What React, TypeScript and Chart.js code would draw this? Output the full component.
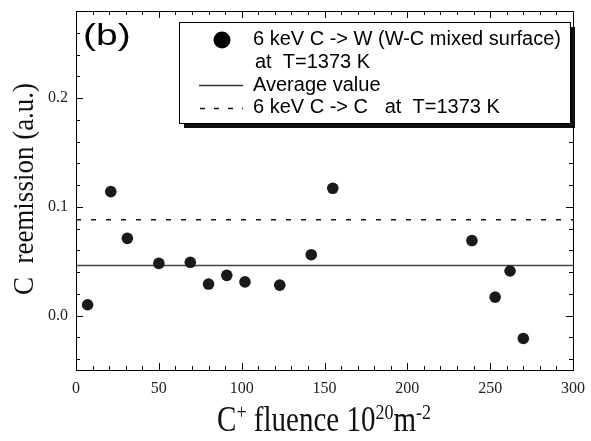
import React, { useEffect, useRef } from "react";
import { Chart, registerables } from "chart.js";

Chart.register(...registerables);

// ---- data ----
const fluence = [7, 21, 31, 50, 69, 80, 91, 102, 123, 142, 155, 239, 253, 262, 270];
const reemission = [0.010, 0.114, 0.071, 0.048, 0.049, 0.029, 0.037, 0.031, 0.028, 0.056, 0.117, 0.069, 0.017, 0.041, -0.021];
const averageValue = 0.046;
const carbonOnCarbon = 0.088;
const xRange = [0, 300];
const yRange = [-0.05, 0.28];
const xTickValues = [0, 50, 100, 150, 200, 250, 300];
const yTickValues = [0, 0.1, 0.2];
const seriesLabels = ["6 keV C -> W (W-C mixed surface)", "Average value", "6 keV C -> C   at  T=1373 K"];
const legendSubLine = "at  T=1373 K";
const panelLabel = "(b)";
const yTitle = "C  reemission (a.u.)";
// [text, isSuperscript]
const xTitleParts: [string, boolean][] = [["C", false], ["+", true], [" fluence 10", false], ["20", true], ["m", false], ["-2", true]];

const SERIF = "'Liberation Serif', 'Times New Roman', serif";
const SANS = "'Liberation Sans', Arial, sans-serif";

const decorPlugin = {
  id: "decor",
  afterDraw(chart: any) {
    const ctx: CanvasRenderingContext2D = chart.ctx;
    const { left, right, top, bottom } = chart.chartArea;
    const xs = chart.scales.x;
    const ys = chart.scales.y;
    ctx.save();

    // frame
    ctx.strokeStyle = "#000";
    ctx.lineWidth = 1;
    ctx.strokeRect(Math.round(left) + 0.5, Math.round(top) + 0.5, Math.round(right - left), Math.round(bottom - top));

    // ticks (inward, all four sides)
    ctx.beginPath();
    for (let k = 0; k <= 30; k++) {
      const px = Math.round(xs.getPixelForValue(k * 10)) + 0.5;
      const len = k % 5 === 0 ? 7 : 4;
      ctx.moveTo(px, bottom);
      ctx.lineTo(px, bottom - len);
      ctx.moveTo(px, top);
      ctx.lineTo(px, top + len);
    }
    for (let k = -2; k <= 14; k++) {
      const py = Math.round(ys.getPixelForValue(k * 0.02)) + 0.5;
      const len = k % 5 === 0 ? 7 : 4;
      ctx.moveTo(left, py);
      ctx.lineTo(left + len, py);
      ctx.moveTo(right, py);
      ctx.lineTo(right - len, py);
    }
    ctx.stroke();

    // panel label
    ctx.save();
    ctx.fillStyle = "#000";
    ctx.font = `30px ${SANS}`;
    ctx.textBaseline = "alphabetic";
    ctx.translate(83, 45);
    ctx.scale(1.3, 1);
    ctx.fillText(panelLabel, 0, 0);
    ctx.restore();

    // legend box with shadow
    const bx = 179, by = 22, bw = 391, bh = 101;
    ctx.fillStyle = "#111";
    ctx.fillRect(bx + 5, by + 5, bw, bh);
    ctx.fillStyle = "#fff";
    ctx.fillRect(bx, by, bw, bh);
    ctx.strokeStyle = "#000";
    ctx.lineWidth = 1;
    ctx.strokeRect(bx + 0.5, by + 0.5, bw, bh);

    ctx.fillStyle = "#000";
    ctx.beginPath();
    ctx.arc(222, 40, 8.5, 0, Math.PI * 2);
    ctx.fill();

    ctx.font = `20px ${SANS}`;
    ctx.textAlign = "left";
    ctx.textBaseline = "alphabetic";
    ctx.fillText(seriesLabels[0], 253, 45);
    ctx.fillText(legendSubLine, 255, 68);
    ctx.fillText(seriesLabels[1], 253, 91);
    ctx.fillText(seriesLabels[2], 253, 113);

    ctx.lineWidth = 1.5;
    ctx.strokeStyle = "#333";
    ctx.beginPath();
    ctx.moveTo(199, 85.5);
    ctx.lineTo(243, 85.5);
    ctx.stroke();
    ctx.strokeStyle = "#111";
    ctx.setLineDash([5, 9]);
    ctx.beginPath();
    ctx.moveTo(200, 108.5);
    ctx.lineTo(243, 108.5);
    ctx.stroke();
    ctx.setLineDash([]);

    // y title
    ctx.save();
    ctx.fillStyle = "#111";
    ctx.font = `27px ${SERIF}`;
    ctx.textAlign = "center";
    ctx.textBaseline = "alphabetic";
    ctx.translate(33, 189);
    ctx.rotate(-Math.PI / 2);
    ctx.scale(1, 1.1);
    ctx.fillText(yTitle, 0, 0);
    ctx.restore();

    // x title with superscripts
    ctx.save();
    ctx.fillStyle = "#111";
    ctx.textAlign = "left";
    ctx.textBaseline = "alphabetic";
    const mainFont = `29px ${SERIF}`;
    const supFont = `18px ${SERIF}`;
    let total = 0;
    const widths = xTitleParts.map(([t, sup]) => {
      ctx.font = sup ? supFont : mainFont;
      const w = ctx.measureText(t).width;
      total += w;
      return w;
    });
    let x = 324 - total / 2;
    ctx.translate(0, 431);
    ctx.scale(1, 1.2);
    xTitleParts.forEach(([t, sup], i) => {
      ctx.font = sup ? supFont : mainFont;
      ctx.fillText(t, x, sup ? -10 : 0);
      x += widths[i];
    });
    ctx.restore();

    ctx.restore();
  },
};

export default function App() {
  const canvasRef = useRef<HTMLCanvasElement | null>(null);

  useEffect(() => {
    const canvas = canvasRef.current;
    if (!canvas) return;
    const chart = new Chart(canvas, {
      type: "scatter",
      data: {
        datasets: [
          {
            label: seriesLabels[0],
            data: fluence.map((f, i) => ({ x: f, y: reemission[i] })),
            backgroundColor: "#1a1a1a",
            borderWidth: 0,
            pointRadius: 5.8,
            showLine: false,
          },
          {
            label: seriesLabels[1],
            data: [
              { x: xRange[0], y: averageValue },
              { x: xRange[1], y: averageValue },
            ],
            borderColor: "#444",
            borderWidth: 1.5,
            pointRadius: 0,
            showLine: true,
          },
          {
            label: seriesLabels[2],
            data: [
              { x: xRange[0], y: carbonOnCarbon },
              { x: xRange[1], y: carbonOnCarbon },
            ],
            borderColor: "#111",
            borderWidth: 1.5,
            borderDash: [5, 10],
            pointRadius: 0,
            showLine: true,
          },
        ],
      },
      options: {
        responsive: false,
        animation: false,
        layout: { padding: { top: 11, right: 18, left: 0, bottom: 0 } },
        plugins: { legend: { display: false }, tooltip: { enabled: false } },
        scales: {
          x: {
            type: "linear",
            min: xRange[0],
            max: xRange[1],
            grid: { display: false, drawTicks: false },
            border: { display: false },
            afterBuildTicks: (scale: any) => {
              scale.ticks = xTickValues.map((v) => ({ value: v }));
            },
            afterFit: (scale: any) => {
              scale.height = 71;
              scale.paddingLeft = 0;
              scale.paddingRight = 0;
              scale.paddingTop = 0;
              scale.paddingBottom = 0;
            },
            ticks: {
              autoSkip: false,
              maxRotation: 0,
              padding: 9,
              color: "#222",
              font: { family: SERIF, size: 16 },
              callback: (v: any) => String(v),
            },
          },
          y: {
            type: "linear",
            min: yRange[0],
            max: yRange[1],
            grid: { display: false, drawTicks: false },
            border: { display: false },
            afterBuildTicks: (scale: any) => {
              scale.ticks = yTickValues.map((v) => ({ value: v }));
            },
            afterFit: (scale: any) => {
              scale.width = 76;
              scale.paddingLeft = 0;
              scale.paddingRight = 0;
              scale.paddingTop = 0;
              scale.paddingBottom = 0;
            },
            ticks: {
              autoSkip: false,
              padding: 8,
              color: "#222",
              font: { family: SERIF, size: 16 },
              callback: (v: any) => Number(v).toFixed(1),
            },
          },
        },
      },
      plugins: [decorPlugin],
    } as any);
    return () => chart.destroy();
  }, []);

  return (
    <div style={{ position: "absolute", left: 0, top: 0, width: 591, height: 441, background: "#fff" }}>
      <canvas ref={canvasRef} width={591} height={441} style={{ width: 591, height: 441, display: "block" }} />
    </div>
  );
}
